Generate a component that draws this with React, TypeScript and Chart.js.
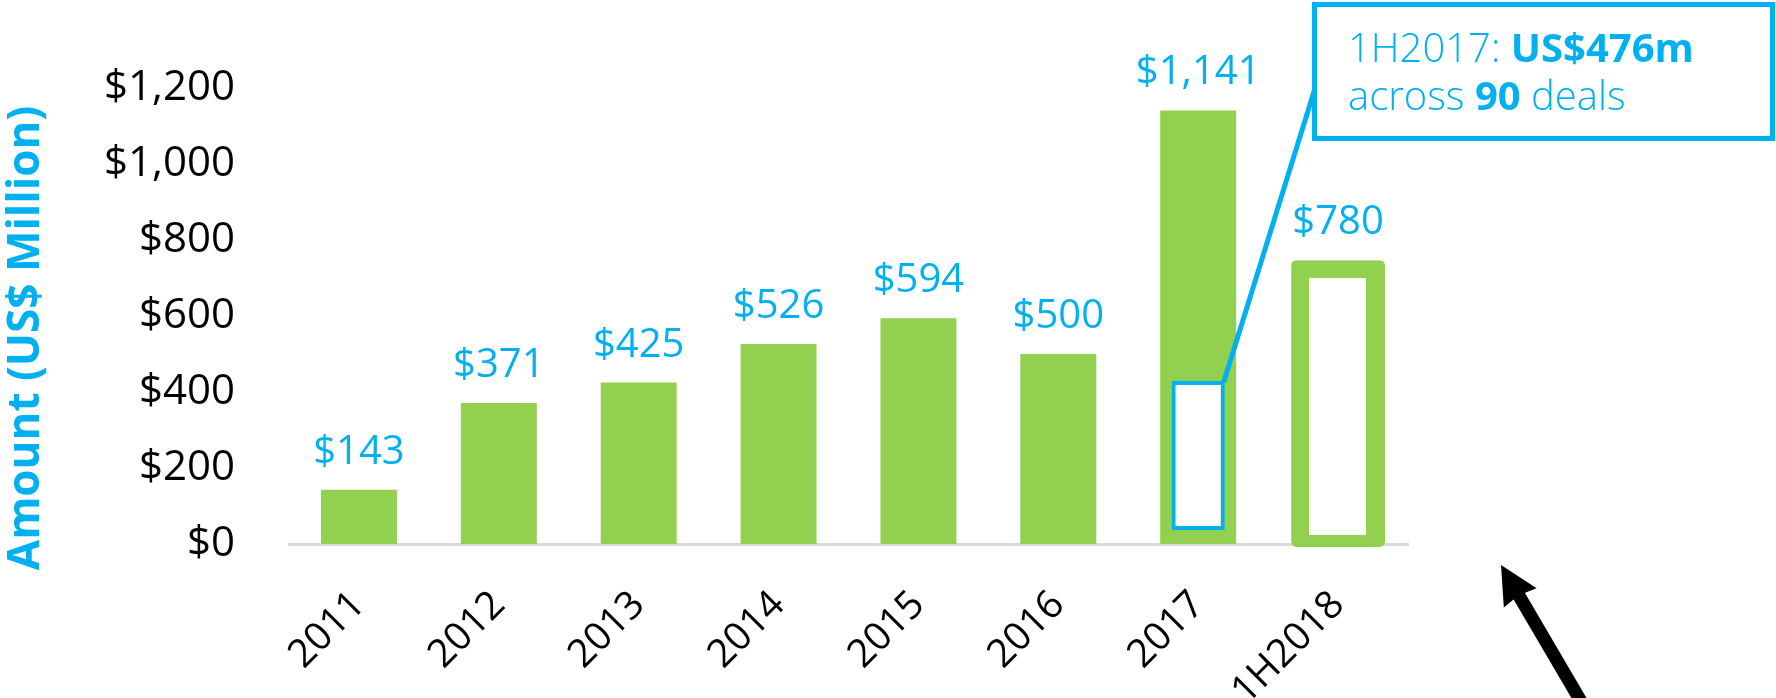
import { useEffect, useRef } from 'react';
import { Chart, registerables } from 'chart.js';

Chart.register(...registerables);

// ---- data ----
const years = ['2011', '2012', '2013', '2014', '2015', '2016', '2017', '1H2018'];
const amounts = [143, 371, 425, 526, 594, 500, 1141, null];
const amountLabels = ['$143', '$371', '$425', '$526', '$594', '$500', '$1,141', '$780'];
const halfYear2018Bar = [-8, 747]; // outlined 1H2018 bar, as drawn
const firstHalf2017Box = [37, 429]; // 1H2017 box inside the 2017 bar
const yTicks = [0, 200, 400, 600, 800, 1000, 1200];
const calloutLines = [
  [{ text: '1H2017: ', bold: false }, { text: 'US$476m', bold: true }],
  [{ text: 'across ', bold: false }, { text: '90', bold: true }, { text: ' deals', bold: false }],
];

const GREEN = '#92D050';
const BLUE = '#00B0F0';
const FONT = "'Open Sans', sans-serif";

const overlayPlugin = {
  id: 'overlay',
  afterDatasetsDraw(chart: any) {
    const ctx = chart.ctx;
    const main = chart.getDatasetMeta(1);
    const hollow = chart.getDatasetMeta(2);
    ctx.save();
    ctx.fillStyle = BLUE;
    ctx.font = `400 40px ${FONT}`;
    ctx.textAlign = 'center';
    ctx.textBaseline = 'alphabetic';
    amountLabels.forEach((txt, i) => {
      const el = amounts[i] != null ? main.data[i] : hollow.data[i];
      if (!el) return;
      ctx.fillText(txt, el.x, el.y - 26);
    });
    ctx.restore();
  },
  afterDraw(chart: any) {
    const ctx = chart.ctx;
    ctx.save();

    // connector from the 1H2017 box to the callout
    const inner = chart.getDatasetMeta(0).data[6];
    const boxL = 1314.5, boxT = 4.5, boxW = 458, boxH = 134;
    if (inner) {
      ctx.strokeStyle = BLUE;
      ctx.lineWidth = 5;
      ctx.beginPath();
      ctx.moveTo(inner.x + inner.width / 2 - 1, inner.y + 1);
      ctx.lineTo(boxL, 90);
      ctx.stroke();
    }

    // callout box
    ctx.fillStyle = '#fff';
    ctx.fillRect(boxL, boxT, boxW, boxH);
    ctx.strokeStyle = BLUE;
    ctx.lineWidth = 5;
    ctx.strokeRect(boxL, boxT, boxW, boxH);
    ctx.fillStyle = BLUE;
    ctx.textAlign = 'left';
    ctx.textBaseline = 'alphabetic';
    const baselines = [62, 110];
    calloutLines.forEach((parts, li) => {
      let x = 1348;
      parts.forEach((p) => {
        ctx.font = `${p.bold ? 700 : 300} 40px ${FONT}`;
        ctx.fillText(p.text, x, baselines[li]);
        x += ctx.measureText(p.text).width;
      });
    });

    // black arrow, bottom right
    const tip = { x: 1501, y: 565 };
    const dir = { x: 0.506, y: 0.863 };
    const perp = { x: dir.y, y: -dir.x };
    const headLen = 38, headHalf = 19;
    const base = { x: tip.x + dir.x * headLen, y: tip.y + dir.y * headLen };
    ctx.strokeStyle = '#000';
    ctx.lineWidth = 13;
    ctx.beginPath();
    ctx.moveTo(base.x - dir.x * 4, base.y - dir.y * 4);
    ctx.lineTo(base.x + dir.x * 200, base.y + dir.y * 200);
    ctx.stroke();
    ctx.fillStyle = '#000';
    ctx.beginPath();
    ctx.moveTo(tip.x, tip.y);
    ctx.lineTo(base.x + perp.x * headHalf, base.y + perp.y * headHalf);
    ctx.lineTo(base.x - dir.x * 3, base.y - dir.y * 3);
    ctx.lineTo(base.x - perp.x * headHalf, base.y - perp.y * headHalf);
    ctx.closePath();
    ctx.fill();

    // y axis title
    ctx.translate(39, 338);
    ctx.rotate(-Math.PI / 2);
    ctx.fillStyle = BLUE;
    ctx.font = `700 44px ${FONT}`;
    ctx.textAlign = 'center';
    ctx.fillText('Amount (US$ Million)', 0, 0);
    ctx.restore();
  },
};

export default function App() {
  const chartRef = useRef<HTMLCanvasElement>(null);
  const chartInstance = useRef<Chart | null>(null);

  useEffect(() => {
    if (!chartRef.current) return;
    if (chartInstance.current) chartInstance.current.destroy();

    const ctx = chartRef.current.getContext('2d');
    if (!ctx) return;

    chartInstance.current = new Chart(ctx, {
      type: 'bar',
      data: {
        labels: years,
        datasets: [
          {
            label: '1H2017',
            data: years.map((_, i) => (i === 6 ? firstHalf2017Box : null)) as any,
            backgroundColor: '#fff',
            borderColor: BLUE,
            borderWidth: 4,
            borderSkipped: false,
            barPercentage: 0.38,
            categoryPercentage: 1,
            grouped: false,
            order: 0,
          },
          {
            label: 'Amount',
            data: amounts as any,
            backgroundColor: GREEN,
            barPercentage: 0.543,
            categoryPercentage: 1,
            grouped: false,
            order: 1,
          },
          {
            label: '1H2018',
            data: years.map((_, i) => (i === 7 ? halfYear2018Bar : null)) as any,
            backgroundColor: '#fff',
            borderColor: GREEN,
            borderWidth: { top: 18, left: 18, right: 19, bottom: 12 },
            borderSkipped: false,
            borderRadius: 5,
            barPercentage: 0.671,
            categoryPercentage: 1,
            grouped: false,
            order: 2,
            clip: false as any,
          },
        ],
      },
      options: {
        responsive: true,
        maintainAspectRatio: false,
        animation: false,
        events: [],
        layout: { padding: { top: 88, right: 368, left: 0, bottom: 0 } },
        plugins: {
          legend: { display: false },
          tooltip: { enabled: false },
        },
        scales: {
          x: {
            grid: { display: false, drawTicks: false },
            border: { display: true, color: '#D9D9D9', width: 3 },
            ticks: {
              color: '#000',
              font: { family: FONT, size: 39 },
              minRotation: 45,
              maxRotation: 45,
              autoSkip: false,
              padding: 38,
            },
            afterFit: (scale: any) => {
              scale.height = 154;
            },
          },
          y: {
            min: 0,
            max: 1200,
            grid: { display: false, drawTicks: false },
            border: { display: false },
            afterBuildTicks: (scale: any) => {
              scale.ticks = yTicks.map((v) => ({ value: v }));
            },
            ticks: {
              color: '#000',
              font: { family: FONT, size: 42 },
              padding: 54,
              callback: (v: any) => '$' + Number(v).toLocaleString('en-US'),
            },
            afterFit: (scale: any) => {
              scale.width = 289;
            },
          },
        },
      },
      plugins: [overlayPlugin],
    });

    return () => {
      if (chartInstance.current) {
        chartInstance.current.destroy();
        chartInstance.current = null;
      }
    };
  }, []);

  return (
    <div style={{ position: 'fixed', left: 0, top: 0, width: 1776, height: 698, background: '#fff' }}>
      <canvas ref={chartRef} />
    </div>
  );
}
